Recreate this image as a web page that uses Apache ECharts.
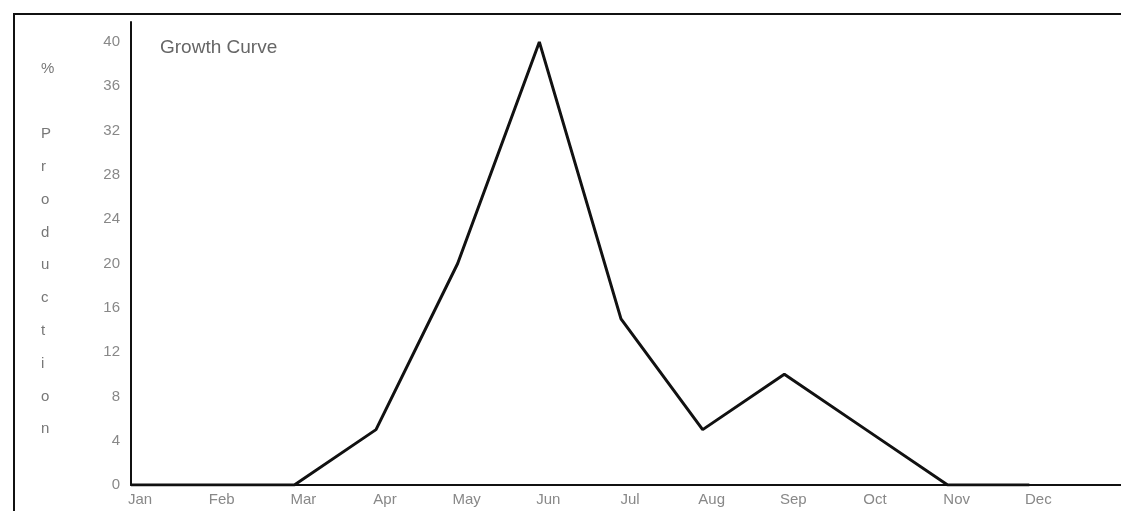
<!DOCTYPE html>
<html>
<head>
<meta charset="utf-8">
<script src="https://cdn.jsdelivr.net/npm/echarts@6/dist/echarts.min.js"></script>
<style>html,body{margin:0;padding:0;background:#fff;}#c{width:1121px;height:511px;}</style>
</head>
<body>
<div id="c"></div>
<script>
const months = ['Jan','Feb','Mar','Apr','May','Jun','Jul','Aug','Sep','Oct','Nov','Dec',''];
const production = [0,0,0,5,20,40,15,5,10,5,0,0];
const yTicks = [0,4,8,12,16,20,24,28,32,36,40];
const chartTitle = 'Growth Curve';
const yName = '%\n\nP\nr\no\nd\nu\nc\nt\ni\no\nn';

const chart = echarts.init(document.getElementById('c'));
chart.setOption({
  backgroundColor: '#fff',
  animation: false,
  title: {
    text: chartTitle, left: 155, top: 33,
    textStyle: {fontFamily: 'Liberation Sans', fontSize: 19, fontWeight: 'normal', color: '#666'}
  },
  grid: {left: 131, right: 10, top: 22, bottom: 26},
  xAxis: {
    type: 'category', data: months, boundaryGap: false,
    axisLine: {lineStyle: {color: '#111', width: 2}},
    axisTick: {show: false},
    axisLabel: {color: '#888', fontSize: 15, fontFamily: 'Liberation Sans', margin: 7, interval: 0, padding: [0,0,0,18]},
    splitLine: {show: false}
  },
  yAxis: {
    type: 'value', min: 0, max: 41.8, interval: 4,
    axisLine: {show: true, lineStyle: {color: '#111', width: 2}},
    axisTick: {show: false},
    splitLine: {show: false},
    axisLabel: {
      color: '#888', fontSize: 15, fontFamily: 'Liberation Sans', margin: 11,
      showMaxLabel: false,
      formatter: v => (yTicks.indexOf(v) >= 0 ? String(v) : '')
    }
  },
  graphic: [
    {type: 'polyline', shape: {points: [[14,511],[14,14],[1121,14]]}, style: {stroke: '#111', lineWidth: 2, fill: null}, silent: true},
    {type: 'line', shape: {x1: 1110, y1: 485, x2: 1121, y2: 485}, style: {stroke: '#111', lineWidth: 2}, silent: true},
    {type: 'text', left: 41, top: 52, style: {text: yName, fill: '#777', fontSize: 15, fontFamily: 'Liberation Sans', lineHeight: 32.8, align: 'center'}}
  ],
  series: [{
    type: 'line', data: production, symbol: 'none',
    lineStyle: {color: '#111', width: 3}
  }]
});
</script>
</body>
</html>
